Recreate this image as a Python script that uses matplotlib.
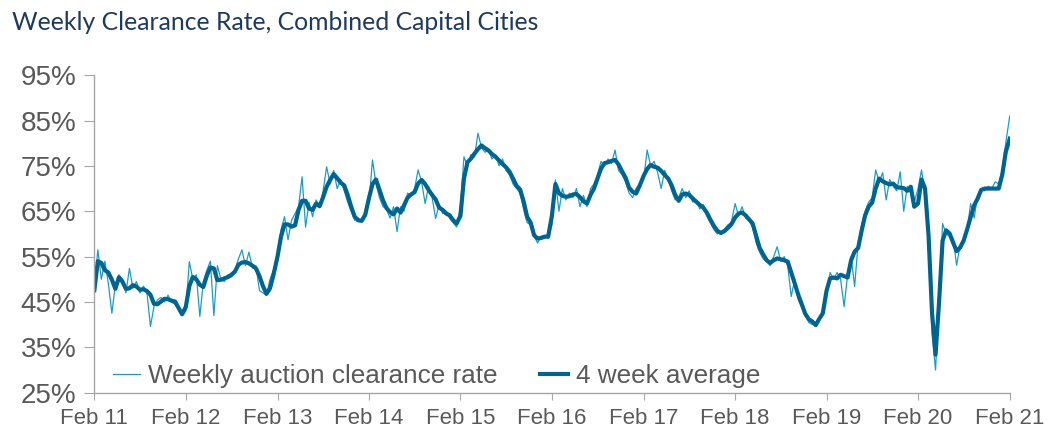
import pandas as pd
import matplotlib
matplotlib.use('Agg')
import matplotlib.pyplot as plt
from matplotlib.ticker import FuncFormatter

# Fortnightly readings, one row of 26 per year starting each February (2020 row has the Feb 21 point too)
years = list(range(2011, 2021))

weekly_rate = [
    # 2011
    48, 56.5, 50, 54, 49, 42.5, 49, 51, 50, 47, 52.4, 48, 49.5, 47, 48.5, 47, 39.6, 44, 45.5, 46, 45, 46.5, 45, 44.5, 44, 42,
    # 2012
    43, 53.9, 50, 51, 41.8, 49.5, 52, 54, 42, 53, 50, 49.5, 51, 50.5, 52, 54.5, 56.5, 53, 56, 52.5, 53, 47.5, 47, 46.5, 50, 52,
    # 2013
    56, 61, 63.8, 58.7, 63, 64.5, 66, 72.6, 61.5, 67, 63.8, 67.5, 66, 69.5, 74.8, 71, 74, 70, 72, 69.5, 67, 65, 63, 63.5, 62.5, 65,
    # 2014
    67, 76.3, 71, 68, 66, 65.5, 63.5, 66, 60.5, 66, 65, 69, 68.5, 70, 74.1, 71.5, 66.7, 70.5, 68, 63.4, 66.5, 64.5, 65, 63.5, 62.5, 61.5,
    # 2015
    66, 77, 75, 77.5, 77, 82.2, 79, 78, 78.5, 76.5, 77.5, 75, 76.5, 74, 73, 71, 70, 69, 65.5, 62.5, 62, 59.5, 58, 59.5, 59.5, 59,
    # 2016
    62, 71.9, 65, 70, 67.5, 69, 68, 70, 66, 68.5, 66, 70, 71, 73, 76, 75, 76.5, 75.5, 78.5, 74, 73, 71.5, 69, 68, 70, 71,
    # 2017
    72, 78.5, 75, 76, 73.5, 70, 74, 72, 69.5, 67.5, 68, 70, 68, 69.5, 67, 67.5, 65.5, 66.5, 64, 62.5, 61, 60, 60.5, 61, 62, 62.5,
    # 2018
    66.7, 64, 66, 63.5, 63, 61.5, 58, 56, 54.5, 54, 53, 55, 57.2, 54, 55, 53, 46.2, 50, 45.5, 44, 42.5, 40.5, 40, 40.5, 41.5, 42.5,
    # 2019
    46, 51.5, 50, 51.5, 50, 44, 51, 55, 48.4, 58, 62, 65, 67, 68, 74.1, 71.5, 73.5, 67.5, 72, 70.5, 69.5, 73.7, 65, 70.5, 69, 67,
    # 2020 (+ Feb 21)
    70, 74.1, 69, 62, 38, 30, 46, 62.3, 60, 59.5, 59, 53.1, 57.5, 59, 61, 66.7, 63.5, 68.5, 70, 69.5, 70.5, 70, 71.5, 71, 74, 80, 86,
]

avg_rate = [
    # 2011
    47.6, 54, 53.6, 52, 51.5, 49.9, 47.9, 50.4, 49.5, 47.9, 48, 48.7, 48.4, 47.7, 47.8, 47.4, 46.6, 44.6, 44.5, 45.1, 45.7, 45.6, 45.3, 45.1, 43.7, 42.3,
    # 2012
    43.9, 48.5, 50.5, 50, 48.8, 48.3, 50.8, 52.6, 52.4, 49.8, 49.9, 50.2, 50.5, 51, 51.7, 53.2, 53.7, 53.8, 53.5, 53, 52.4, 50.7, 48.5, 46.8, 48, 51,
    # 2013
    55, 59.4, 62.1, 62.1, 61.6, 61.9, 65.3, 67.3, 67.3, 65.6, 65.3, 66.7, 66.1, 68.1, 70.4, 71.9, 73.2, 72.3, 71.3, 70.7, 68.6, 66, 63.8, 63, 62.9, 64.2,
    # 2014
    67.9, 71, 72, 69.7, 67.4, 65.7, 64.8, 64.3, 65.6, 64.7, 66.3, 68, 68.7, 69.2, 71.1, 71.9, 71, 69.7, 68.6, 67.6, 65.8, 65.3, 64.5, 64.1, 63, 62.3,
    # 2015
    64, 72.2, 75.8, 76.6, 77.7, 78.7, 79.5, 78.9, 78.4, 77.6, 77, 76.2, 75.4, 74.7, 73.7, 72.2, 70.6, 69.8, 67.2, 63.8, 62.5, 59.7, 59, 59.1, 59.4, 59.4,
    # 2016
    64, 71, 69, 68.4, 68.2, 68.3, 68.7, 68.8, 68.1, 67.2, 66.7, 68.6, 70, 72.2, 74.4, 75.6, 75.8, 76.1, 76.3, 75.3, 73.8, 72.4, 70.2, 69.3, 68.9, 70.6,
    # 2017
    72.8, 74.3, 75.2, 74.8, 74.6, 73.9, 73, 72.2, 70.7, 68.6, 67.3, 68.7, 68.9, 68.6, 67.8, 67.1, 66.4, 65.8, 64.7, 63.2, 61.8, 60.7, 60.2, 60.6, 61.3, 62.1,
    # 2018
    63.6, 64.5, 64.7, 64.1, 63.2, 62.3, 59.6, 56.9, 55.5, 54.2, 53.6, 54.2, 54.6, 54.4, 54.2, 53.9, 51.5, 49.1, 46.6, 44.5, 42.4, 41.2, 40.7, 39.9, 41.3, 42.5,
    # 2019
    47.5, 50.2, 50.4, 50.2, 51, 50.7, 50.4, 54.2, 56.1, 56.9, 60.7, 64.1, 66, 66.9, 70, 72.2, 71.6, 71.2, 70.9, 71.1, 70.3, 70.2, 70.1, 69.5, 70.4, 66,
    # 2020 (+ Feb 21)
    66.7, 72, 70, 59.7, 42.5, 33.4, 45, 58.5, 60.8, 60.1, 58.1, 56.2, 57, 58.5, 61, 63.7, 66.3, 67.8, 69.7, 70, 70, 70, 70, 70, 73, 78, 81,
]

tick_labels = ['Feb 11', 'Feb 12', 'Feb 13', 'Feb 14', 'Feb 15', 'Feb 16',
               'Feb 17', 'Feb 18', 'Feb 19', 'Feb 20', 'Feb 21']

# date grid: every 14 days from early Feb of each year, plus the last Feb 21 point
dates = []
for y in years:
    dates += list(pd.date_range(f'{y}-02-06', periods=26, freq='14D'))
dates.append(pd.Timestamp('2021-02-06'))
tick_dates = [pd.Timestamp(f'{y}-02-06') for y in range(2011, 2022)]

grey = '#595959'
thin_col = '#1B9CC8'
thick_col = '#00648F'

plt.rcParams['font.family'] = ['Liberation Sans', 'DejaVu Sans']

fig = plt.figure(figsize=(10.54, 4.42), dpi=100)
ax = fig.add_axes([0.0895, 0.1115, 0.8685, 0.7185])

ax.plot(dates, weekly_rate, color=thin_col, lw=0.9, label='Weekly auction clearance rate')
ax.plot(dates, avg_rate, color=thick_col, lw=3.0, label='4 week average')

ax.set_xlim(dates[0], dates[-1])
ax.set_ylim(25, 95)
ax.set_yticks(range(25, 96, 10))
ax.yaxis.set_major_formatter(FuncFormatter(lambda v, p: f'{v:.0f}%'))
ax.set_xticks(tick_dates)
ax.set_xticklabels(tick_labels)

for s in ['top', 'right']:
    ax.spines[s].set_visible(False)
for s in ['left', 'bottom']:
    ax.spines[s].set_color('#A6A6A6')
    ax.spines[s].set_linewidth(1.0)
ax.tick_params(axis='y', colors='#A6A6A6', labelcolor=grey, labelsize=20, length=7, pad=6)
ax.tick_params(axis='x', colors='#A6A6A6', labelcolor=grey, labelsize=16, length=5, pad=6)

leg = ax.legend(loc='center left', bbox_to_anchor=(0.02, 0.052), ncol=2, frameon=False,
                fontsize=18.8, handlelength=1.05, handletextpad=0.3, columnspacing=1.65,
                borderaxespad=0, borderpad=0)
for t in leg.get_texts():
    t.set_color(grey)

fig.text(0.011, 0.948, 'Weekly Clearance Rate, Combined Capital Cities', fontsize=17.8,
         family=['Lato', 'DejaVu Sans'], color='#1F3A5F', va='center', ha='left')

fig.savefig('out.png', dpi=100)
